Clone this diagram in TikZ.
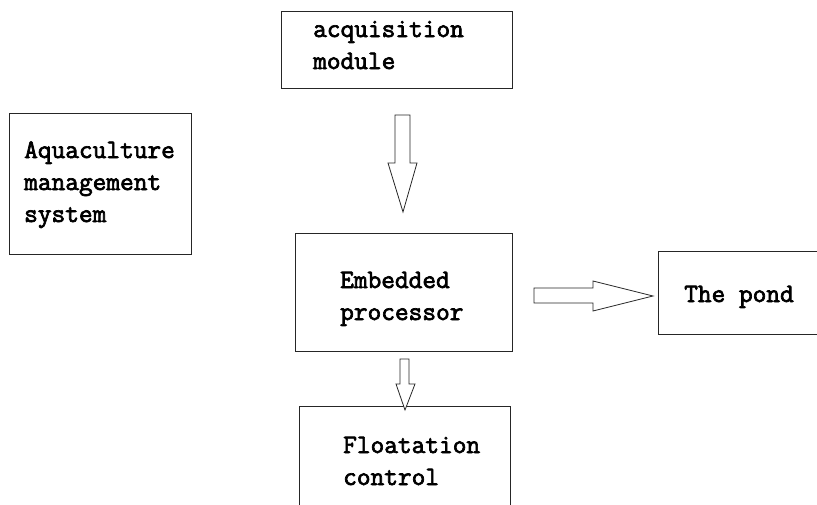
\documentclass[tikz,border=0pt]{standalone}
\usepackage{fontspec}
\newfontfamily\boxfont{Latin Modern Mono}[BoldFont={Latin Modern Mono},BoldFeatures={FakeBold=2.6}]
\begin{document}
\begin{tikzpicture}[x=1pt,y=-1pt,
  box/.style={draw=black!85,line width=0.9pt,inner sep=0pt},
  lbl/.style={anchor=base west,inner sep=0pt,font=\fontsize{26.6}{31}\boxfont\bfseries},
  blockarrow/.style={draw=black!85,line width=0.8pt,fill=white,line join=miter}]
\useasboundingbox (0,0) rectangle (817,504);
\clip (0,0) rectangle (817,504);

% boxes, given by their centres and sizes
\node[box,minimum width=231pt,minimum height=77pt] (acq) at (396.5,49.5) {};
\node[box,minimum width=182pt,minimum height=141pt] (aqua) at (100,183.5) {};
\node[box,minimum width=217pt,minimum height=118pt] (emb) at (403.5,292) {};
\node[box,minimum width=180pt,minimum height=83pt] (pond) at (748,292.5) {};
\node[box,minimum width=211pt,minimum height=140pt] (flo) at (404.5,476) {};

% labels
\node[lbl] (acqa) at (313,37) {acquisition};
\node[lbl] (acqb) at (313,69) {module};
\node[lbl] (aquaa) at (24,158) {Aquaculture};
\node[lbl] (aquab) at (24,190) {management};
\node[lbl] (aquac) at (24,222) {system};
\node[lbl] (emba) at (340,288) {Embedded};
\node[lbl] (embb) at (340,320) {processor};
\node[lbl] (ponda) at (684,302) {The pond};
\node[lbl] (floa) at (343,453) {Floatation};
\node[lbl] (flob) at (343,485) {control};

% hollow block arrows between the boxes
\draw[blockarrow] (395,115) -- (410,115) -- (410,163) -- (417,163) -- (403,212)
  -- (388,163) -- (395,163) -- cycle;
\draw[blockarrow] (534,288) -- (593,288) -- (593,281) -- (653,296) -- (593,311)
  -- (593,303) -- (534,303) -- cycle;
\draw[blockarrow] (400,359) -- (409,359) -- (409,384) -- (415,384) -- (405,410)
  -- (396,384) -- (400,384) -- cycle;
\end{tikzpicture}
\end{document}
